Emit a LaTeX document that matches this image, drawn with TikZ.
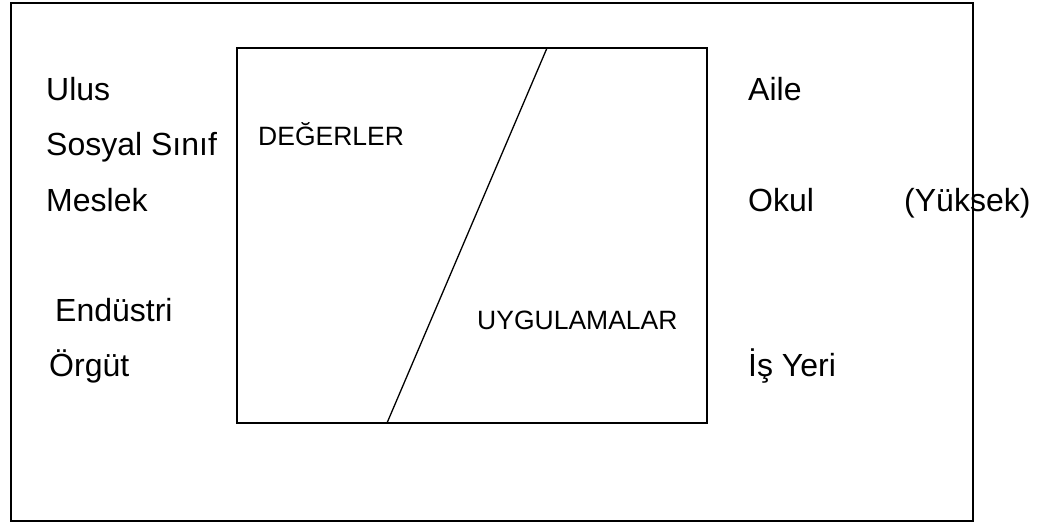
\documentclass[tikz,border=0pt]{standalone}
\usepackage{fontspec}
\setmainfont{Liberation Sans}
\begin{document}
\begin{tikzpicture}[x=1pt,y=-1pt,
  big/.style={anchor=base west,inner sep=0pt,font=\fontsize{32}{38}\selectfont},
  small/.style={anchor=base west,inner sep=0pt,font=\fontsize{26.5}{32}\selectfont},
  frame/.style={draw=black,line width=2pt},
  inner/.style={draw=black,line width=1.5pt}]
\useasboundingbox (0,0) rectangle (1040,523);
\draw[frame] (11,3) rectangle (973,521);
\draw[inner] (237,48) rectangle (707,423);
\coordinate (dtop) at (547,48);
\coordinate (dbot) at (387,423);
\draw[inner,line width=1.3pt] (dtop) -- (dbot);
\node[big] (ulus) at (46,100) {Ulus};
\node[big] (sosyal) at (46,155) {Sosyal Sınıf};
\node[big] (meslek) at (46,211) {Meslek};
\node[big] (endustri) at (55,321) {Endüstri};
\node[big] (orgut) at (49,376) {Örgüt};
\node[big] (aile) at (748,100) {Aile};
\node[big] (okul) at (748,211) {Okul};
\node[big] (yuksek) at (904,211) {(Yüksek)};
\node[big] (isyeri) at (748,376) {İş Yeri};
\node[small] (degerler) at (258,145) {DEĞERLER};
\node[small] (uyg) at (477,329) {UYGULAMALAR};
\end{tikzpicture}
\end{document}
